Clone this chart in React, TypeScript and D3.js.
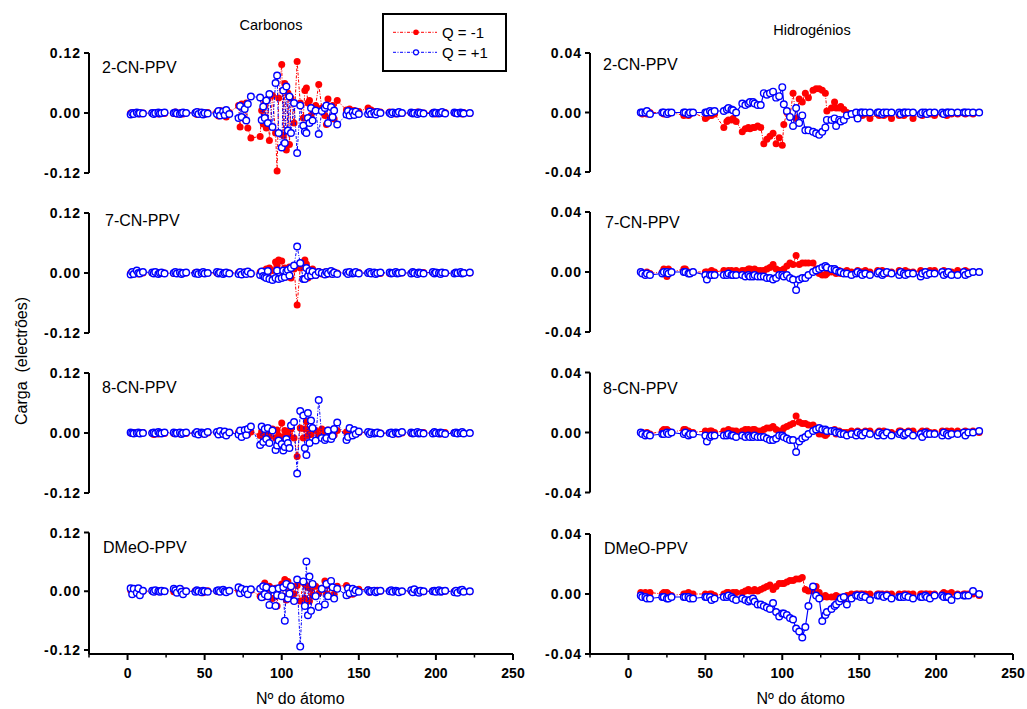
import React from "react";
import * as d3 from "d3";

// ---------- DATA (charges in units of 0.001 electron) ----------
const atomC = [
  2, 3, 4, 6, 7, 8, 10,
  16, 17, 18, 20, 21, 22, 24,
  30, 31, 32, 34, 35, 36, 38,
  44, 45, 46, 48, 49, 50, 52,
  58, 59, 60, 62, 63, 64, 66,
  72, 73, 74, 76, 77, 78, 80,
  86, 87, 88, 89, 90, 91, 92, 94, 96, 97, 98,
  100, 101, 102, 103, 104, 105, 106, 108, 110, 112,
  114, 115, 116, 117, 118, 119, 120, 122, 124, 126,
  128, 129, 130, 132, 133, 134, 136,
  142, 143, 144, 146, 147, 148, 150,
  156, 157, 158, 160, 161, 162, 164,
  170, 171, 172, 174, 175, 176, 178,
  184, 185, 186, 188, 189, 190, 192,
  198, 199, 200, 202, 203, 204, 206,
  212, 213, 214, 216, 217, 218, 222,
];

const atomH = [
  8, 9, 11, 12, 14,
  22, 23, 25, 26, 28,
  36, 37, 39, 40, 42,
  50, 51, 53, 54, 56,
  62, 64, 65, 67, 68, 70,
  74, 76, 78, 79, 81, 82, 84,
  86, 88, 90, 92, 94, 96, 98,
  100, 101, 103, 105, 107, 109, 111, 113,
  115, 117, 120, 122, 124, 126, 128, 129,
  132, 134, 135, 137, 138, 140,
  142, 145, 148, 149, 151, 152, 154,
  157, 162, 163, 165, 166, 168,
  171, 176, 177, 179, 180, 182,
  185, 190, 191, 193, 194, 196,
  199, 204, 205, 207, 208, 210,
  214, 218, 219, 221, 224, 228,
];

// Carbons, 2-CN-PPV
const c2cnNeg = [
  0, -2, 1, -1, 0, -2, 0,
  0, -1, 1, -2, 0, 1, -1,
  -1, 2, -2, 0, 1, -2, 0,
  1, -3, 2, -1, 0, -3, 1,
  2, -6, 5, -3, 4, -8, 1,
  15, -28, 18, -12, 20, -30, -50,
  -47, 5, -22, 20, -30, 28, -55, 35, -40, -116, 30,
  97, -45, 59, -74, 40, -63, 30, -20, 103, 20,
  -10, 45, 50, 20, 25, -5, 10, 15, 57, 10,
  -5, -23, 28, -9, 15, -12, 25,
  6, -4, 8, -3, 5, -2, 3,
  10, -3, 6, -2, 3, -1, 2,
  2, -1, 1, -2, 0, 1, -1,
  0, 1, -1, 2, 0, -1, 0,
  1, 0, -2, 1, -1, 0, 1,
  0, -1, 1, 0, -2, 1, -1,
];
const c2cnPos = [
  -3, 0, -2, 1, -1, 0, -1,
  0, -2, 0, 1, -1, 0, 1,
  0, 1, -1, -2, 0, 1, 0,
  0, 2, -2, 1, -3, 0, -1,
  -2, 4, -5, 3, -4, 6, -2,
  -10, 14, -8, 8, -15, 18, 33,
  31, -14, 13, -10, 25, -20, 38, -28, 60, 75, -40,
  -69, 45, -60, 53, -35, 33, -40, 20, -80, 15,
  -25, -37, -40, -10, -20, 10, -15, 5, -42, 4,
  10, 15, -20, 12, -8, 5, -23,
  -3, 4, -5, 2, -4, 3, -2,
  -2, 3, -2, 1, -3, 2, 0,
  0, -2, 1, 0, -1, 2, 0,
  1, -1, 0, -2, 1, 0, -1,
  -1, 1, 0, -1, 0, 2, -1,
  1, 0, -1, 1, 0, -1, 0,
];

// Carbons, 7-CN-PPV
const c7cnNeg = [
  0, -1, 1, 0, -2, 1, 0,
  0, 1, -1, 0, 1, -1, 0,
  -1, 0, 1, -1, 0, 1, 0,
  1, -1, 0, 1, -1, 0, 0,
  0, 1, -1, 0, 1, -1, 0,
  1, -2, 0, 2, -1, 1, -2,
  2, -3, 4, -5, 8, -3, 10, 5, 22, 15, 26,
  24, -5, 10, -8, 5, 12, -10, 8, -64, 10,
  15, 26, 18, -10, 5, -3, 8, -5, 3, -2,
  2, -3, 1, -2, 3, -1, 0,
  1, -1, 0, 1, -1, 0, 1,
  0, 1, -1, 0, 1, 0, -1,
  -1, 0, 1, 0, -1, 1, 0,
  0, -1, 0, 1, 0, -1, 1,
  1, 0, -1, 0, 1, 0, -1,
  0, 1, 0, -1, 0, 1, 0,
];
const c7cnPos = [
  -3, 2, -2, 5, 0, -1, 2,
  1, -1, 2, -2, 0, 1, -1,
  0, 2, -1, 1, -2, 0, 1,
  -1, 1, -2, 0, 2, -1, 0,
  2, -1, 1, -2, 0, 1, -1,
  -2, 2, -3, 1, -2, 3, -1,
  -4, 3, -6, -8, -10, 4, -12, -14, -10, 5, -12,
  -10, 5, -8, 3, 6, -5, 10, 15, 53, 20,
  -12, -12, 10, -6, 4, -5, 3, -4, 2, 0,
  -3, 2, -1, 4, -2, 1, -2,
  1, -2, 2, -1, 0, 2, -1,
  0, 2, -1, 1, -2, 0, 1,
  1, -1, 0, 2, -1, 0, 1,
  -1, 2, 0, -2, 1, 0, -1,
  2, -1, 1, 0, -2, 1, 0,
  -1, 1, 0, 2, -1, 0, 1,
];

// Carbons, 8-CN-PPV
const c8cnNeg = [
  0, -1, 1, 0, -1, 0, 1,
  0, -3, 1, -2, 0, 1, -1,
  -1, 0, 1, -2, 0, 1, -1,
  0, 1, -1, 0, -2, 1, 0,
  1, -2, 0, 1, -1, -2, 1,
  2, -4, 3, -2, 1, -3, 2,
  -5, 3, -8, 4, -6, 5, -7, 8, -10, 6, -5,
  20, -8, 5, -4, 3, -6, 8, -10, -47, 10,
  -10, 8, 23, -5, 6, -3, 10, 5, -4, 8,
  3, -5, 6, -3, 2, -4, 5,
  2, -1, 3, -2, 0, -1, 1,
  1, 0, -1, 1, 0, -1, 0,
  0, 1, -1, 0, -2, 1, 0,
  -1, 0, 1, 0, -1, 0, 1,
  0, -1, 0, 1, -2, 0, 1,
  1, 0, -1, 0, 1, -1, 0,
];
const c8cnPos = [
  1, 0, -1, 0, 1, -1, 0,
  0, 1, -1, 2, 0, -1, 1,
  1, -1, 0, 1, -2, 0, 1,
  -1, 2, -3, 1, 0, -2, 2,
  2, -3, 4, -2, 3, -5, 1,
  -3, 5, -8, 6, -4, 8, 13,
  -24, 13, -18, 8, -12, 10, -20, 5, -34, -25, -15,
  -22, -35, -28, -12, -20, -30, 15, 22, -81, 44,
  35, -30, -44, 40, -20, 25, 10, -15, 66, -10,
  -14, -10, 5, -12, -6, 8, 21,
  -14, -8, 10, -5, 6, -2, 3,
  2, -2, 1, -1, 0, 1, -1,
  0, 1, -2, 1, 0, -1, 2,
  1, -1, 0, 2, -1, 0, -1,
  -1, 2, 0, -1, 1, 0, -2,
  0, 1, -1, 0, 2, -1, 0,
];

// Carbons, DMeO-PPV
const cDmeoNeg = [
  2, -2, 1, 0, -1, 1, 0,
  0, 1, -1, 0, 1, -1, 0,
  -1, 0, 1, -1, 0, 1, 0,
  1, -1, 0, 1, -3, 0, 1,
  0, -1, 1, 0, -1, 0, 1,
  2, -3, 4, -2, 1, -3, 2,
  -10, 8, -12, 17, 5, -8, 10, -15, 6, -30, 5,
  15, -10, 24, -18, 20, -15, 8, -5, 12, -20,
  18, -15, 12, 8, -20, 5, -8, 10, -4, 6,
  21, -5, 12, -10, 8, -6, 10,
  12, -8, 5, -6, 3, -2, 4,
  3, -2, 1, 0, -1, 2, 0,
  1, 0, -1, 1, 0, -1, 0,
  0, 1, 0, -1, 1, 0, -1,
  1, -1, 0, 1, 0, -1, 0,
  0, 1, -1, 0, 1, 0, -1,
];
const cDmeoPos = [
  6, -6, 5, -3, 6, -8, 1,
  1, -1, 2, 0, -1, 1, 0,
  5, 2, -3, 5, -1, -6, 0,
  -1, 2, 0, -2, 1, 0, -1,
  1, 2, -1, 3, 0, -2, 1,
  8, -4, 5, -2, 3, -6, 4,
  5, -12, 10, -6, 8, -10, -28, 4, -30, -8, 6,
  -10, 8, -60, 15, -15, -5, 10, -20, 24, -113,
  20, -30, 61, -49, 30, -40, 15, -10, -32, 5,
  -27, 15, -10, 21, 8, -15, 5,
  -8, 6, -4, 5, -3, 2, -1,
  2, -1, 0, 1, -2, 0, 1,
  0, 2, -1, 1, 0, -2, 0,
  2, -2, 4, -1, -3, 1, 0,
  0, 1, -1, 2, -1, 0, 1,
  -2, 1, -3, 2, 3, -1, 0,
];

// Hydrogens, 2-CN-PPV
const h2cnNeg = [
  0, -1, 0, -1, 0,
  0, -1, 0, -1, 0,
  -2, -1, -2, -1, 0,
  -4, -3, -2, -2, -1,
  -10, -6, -5, -5, -4, -6,
  -13, -11, -10, -11, -10, -10, -9,
  -10, -21, -18, -16, -14, -21, -17,
  -22, -8, 0, -3, 13, -4, 9, 7,
  13, 10, 15, 16, 16, 15, 13, 1,
  3, 7, 3, 3, 4, 2,
  0, -1, -2, -4, -1, -2, -1,
  -4, -1, -2, -1, -2, -1,
  -4, -2, -1, -2, -1, 0,
  -4, -1, -2, 0, -1, -1,
  -2, -1, -1, -2, 0, -1,
  -1, 0, -1, 0, -1, 0,
];
const h2cnPos = [
  0, 0, 0, 1, -1,
  0, 0, -1, 0, 0,
  0, 0, -1, 0, 0,
  0, 0, 1, 0, 1,
  1, 2, 3, 2, 1.5, 0,
  6, 5, 6, 7, 7, 6, 5,
  5, 13, 12, 13, 14, 10, 11,
  17, 5.5, 1, -3, -9, 3, -7, -2,
  -12, -12, -13, -14, -15, -13, -10, -5,
  -5, -4, -9, -5, -6, -5,
  -2, -1, 0, -4, 0, 0, 0,
  0, 0, 0, -1, 0, 0,
  0, 0, -1, 0, 0, 0,
  0, -1, 0, 0, -1, 0,
  0, 0, -1, 0, 0, 0,
  0, 0, 0, 0, 0, 0,
];

// Hydrogens, 7-CN-PPV
const h7cnNeg = [
  0, -1, -2, 0, -1,
  0, 2, -3, 2, 0,
  2, 2, 0, -1, 0,
  0, 0, 0, 1, 0,
  1, 0, 1, 1, 0, 1,
  1, 1, 2, 2, 1, 2, 1,
  1, 1, 2, 3, 5, 2, 1,
  1, 2, 4, 6, 5, 11, 5, 6,
  6, 6, 6, 2, -1, -2, -2, -1,
  0, 2, -1, 1, -1, 0,
  1, 0, -1, 1, 0, 0, 1,
  0, 1, 0, 1, 0, -1,
  0, 1, 0, 0, 1, 0,
  0, 1, 0, -1, 0, 1,
  1, 0, 1, 0, -1, 0,
  1, 0, 1, 0, 0, 0,
];
const h7cnPos = [
  0, -1, -2, -1, -2,
  -1, 0, 0, -1, 0,
  0, 0, -1, -1, 0,
  -2, -5, -2, -2, -2,
  -2, -2, -1, -2, -2, -2,
  -2, -3, -2, -3, -3, -2, -3,
  -3, -3, -4, -4, -5, -4, -2,
  -2, -3, -2, -4, -5, -12, -5, -4,
  -4, -2, 0, 1, 2, 3, 4, 3,
  2, 2, 1, 0, 0, -1,
  -1, -2, -1, 0, -1, -2, -1,
  -2, -1, 0, -2, -1, 0,
  -1, -2, 0, -1, -2, -1,
  -1, -3, -1, 0, -2, -1,
  -1, 0, -2, -1, 0, -2,
  -2, 0, -2, -1, 0, 0,
];

// Hydrogens, 8-CN-PPV
const h8cnNeg = [
  0, 0, -1, 0, -1,
  1, 2, 2, 1, 0,
  2, 2, 1, 0, 0,
  1, 0, 1, 1, 0,
  1, 1, 2, 1, 1, 1,
  1, 2, 2, 1, 2, 2, 1,
  1, 2, 3, 3, 4, 2, 1,
  1, 3, 4, 5, 6, 11, 7, 6,
  6, 5, 5, 3, -1, -1, -2, -1,
  1, 2, -1, 1, 0, 0,
  0, 1, 0, 1, 0, -1, 1,
  1, 0, 1, 0, 1, 0,
  0, 1, 1, 0, 0, 1,
  1, 0, 1, 0, 1, 0,
  0, 1, 0, 1, 0, 1,
  1, 0, 1, 0, 1, 0,
];
const h8cnPos = [
  0, -1, -2, -1, -2,
  -1, -1, 0, -1, 0,
  -1, 0, -2, -1, -1,
  -2, -6, -3, -2, -2,
  -2, -2, -1, -2, -2, -3,
  -2, -3, -2, -3, -3, -2, -3,
  -3, -3, -4, -5, -5, -4, -2,
  -2, -3, -4, -5, -5, -13, -6, -4,
  -3, -1, 1, 2, 3, 2, 2, 1,
  1, 1, 0, 0, -1, -1,
  -2, -1, -2, 0, -1, -2, 0,
  -1, -2, 0, -1, -2, 0,
  -2, -1, 0, -2, -1, 0,
  -2, -1, -3, 0, -1, -1,
  -1, -2, 0, -1, -2, -1,
  -1, 0, -2, 0, 0, 1,
];

// Hydrogens, DMeO-PPV
const hDmeoNeg = [
  1, 0, 1, 0, 1,
  0, 1, 1, 0, -1,
  0, 0, 1, 0, 0,
  0, -1, 0, 0, -1,
  0, 1, 1, 0, 1, 1,
  1, 2, 3, 2, 2, 3, 2,
  3, 4, 5, 6, 3, 5, 7,
  7, 7, 8, 9, 9, 10, 10, 11,
  3, 2, 2, 5, 1, -2, -1, -2,
  -2, -2, -1, -2, -3, -4,
  -1, 0, 0, 0, 0, 0, 0,
  0, 0, 0, 0, -1, 0,
  0, 0, -1, 0, 0, 0,
  0, 0, 0, 0, 0, 0,
  0, 0, 1, 0, 0, 1,
  0, 0, 0, 0, 0, -1,
];
const hDmeoPos = [
  -1, -2, -2, -3, -3,
  -2, -2, -3, -3, -2,
  -2, -2, -2, -3, -3,
  -2, -2, -2, -4, -3,
  -2, -2, -1, -2, -3, -4,
  -3, -4, -5, -4, -3, -5, -7,
  -7, -8, -9, -10, -6, -12, -15,
  -13, -13, -14, -16, -17, -23, -25, -29,
  -22, -8, 5, -1, -3, -18, -14, -12,
  -10, -8, -7, -5, -3, -2,
  -7, -3, -1, -1, -2, -1, -2,
  -4, -1, -1, -1, -2, -1,
  -3, -2, -2, -2, -1, -2,
  -3, -2, -2, -1, -2, -3,
  -1, -1, -2, -2, -2, -4,
  -1, -1, -1, -1, 2, 0,
];

const panelNames = ["2-CN-PPV", "7-CN-PPV", "8-CN-PPV", "DMeO-PPV"];
const carbonNeg = [c2cnNeg, c7cnNeg, c8cnNeg, cDmeoNeg];
const carbonPos = [c2cnPos, c7cnPos, c8cnPos, cDmeoPos];
const hydroNeg = [h2cnNeg, h7cnNeg, h8cnNeg, hDmeoNeg];
const hydroPos = [h2cnPos, h7cnPos, h8cnPos, hDmeoPos];

const carbonTicks = [0.12, 0, -0.12];
const hydroTicks = [0.04, 0, -0.04];
const xMajor = [0, 50, 100, 150, 200, 250];
const xMinor = [-25, 25, 75, 125, 175, 225];

// ---------- LAYOUT ----------
const FONT = "'Liberation Sans', Arial, Helvetica, sans-serif";
const RED = "#ff0000";
const BLUE = "#0000ff";
const X_AXIS_Y = 654;

// [top pixel (max tick), bottom pixel (min tick)]
const leftRows: [number, number][] = [[53, 173], [213, 333], [373, 493], [532.5, 650]];
const rightRows: [number, number][] = [[53, 172], [212, 332], [372.5, 492.5], [534, 654]];
const leftLabelPos: [number, number][] = [[102, 73], [105, 226], [102, 393], [103, 553]];
const rightLabelPos: [number, number][] = [[603, 70], [605, 228], [603, 394], [604, 554]];

const xLeft = d3.scaleLinear().domain([-25, 250]).range([89, 513]);
const xRight = d3.scaleLinear().domain([-25, 250]).range([590, 1013]);

type PanelProps = {
  x: d3.ScaleLinear<number, number>;
  y: d3.ScaleLinear<number, number>;
  atoms: number[];
  neg: number[];
  pos: number[];
  ticks: number[];
  axisBottom: number;
  label: string;
  labelPos: [number, number];
  blueSolid: boolean;
};

function Panel({ x, y, atoms, neg, pos, ticks, axisBottom, label, labelPos, blueSolid }: PanelProps) {
  const negPts = d3.zip(atoms, neg) as [number, number][];
  const posPts = d3.zip(atoms, pos) as [number, number][];
  const line = d3
    .line<[number, number]>()
    .x((d) => x(d[0]))
    .y((d) => y(d[1] / 1000));
  const ax = x(-25);
  const top = y(ticks[0]);
  return (
    <g>
      <line x1={ax} x2={ax} y1={top} y2={axisBottom} stroke="#000" strokeWidth={2} />
      {ticks.map((t) => (
        <g key={t}>
          <line x1={ax - 5} x2={ax} y1={y(t)} y2={y(t)} stroke="#000" strokeWidth={2} />
          <text
            x={ax - 8}
            y={y(t)}
            dy="0.36em"
            textAnchor="end"
            fontFamily={FONT}
            fontWeight="bold"
            fontSize={14}
            letterSpacing={1}
            fill="#000"
          >
            {t.toFixed(2)}
          </text>
        </g>
      ))}
      <text x={labelPos[0]} y={labelPos[1]} fontFamily={FONT} fontSize={16} fill="#000">
        {label}
      </text>
      <path d={line(negPts) || ""} fill="none" stroke={RED} strokeWidth={1} strokeDasharray="3,1.5,1,1.5" />
      {negPts.map((d, i) => (
        <circle key={"n" + i} cx={x(d[0])} cy={y(d[1] / 1000)} r={3.5} fill={RED} />
      ))}
      <path
        d={line(posPts) || ""}
        fill="none"
        stroke={BLUE}
        strokeWidth={blueSolid ? 1.2 : 1}
        strokeDasharray={blueSolid ? undefined : "3,1.5,1,1.5"}
      />
      {posPts.map((d, i) => (
        <circle
          key={"p" + i}
          cx={x(d[0])}
          cy={y(d[1] / 1000)}
          r={3.3}
          fill="#fff"
          stroke={BLUE}
          strokeWidth={1.4}
        />
      ))}
    </g>
  );
}

function XAxis({ x }: { x: d3.ScaleLinear<number, number> }) {
  const [r0, r1] = x.range();
  return (
    <g>
      <line x1={r0} x2={r1} y1={X_AXIS_Y} y2={X_AXIS_Y} stroke="#000" strokeWidth={2} />
      {xMajor.map((t) => (
        <g key={t}>
          <line x1={x(t)} x2={x(t)} y1={X_AXIS_Y} y2={X_AXIS_Y + 6} stroke="#000" strokeWidth={2} />
          <text
            x={x(t)}
            y={678}
            textAnchor="middle"
            fontFamily={FONT}
            fontWeight="bold"
            fontSize={14}
            fill="#000"
          >
            {t}
          </text>
        </g>
      ))}
      {xMinor.map((t) => (
        <line key={t} x1={x(t)} x2={x(t)} y1={X_AXIS_Y} y2={X_AXIS_Y + 3.5} stroke="#000" strokeWidth={1.5} />
      ))}
      <text
        x={(x(0) + x(250)) / 2 - 20}
        y={704}
        textAnchor="middle"
        fontFamily={FONT}
        fontSize={16}
        fill="#000"
      >
        Nº do átomo
      </text>
    </g>
  );
}

export default function App() {
  return (
    <svg
      width={1027}
      height={709}
      viewBox="0 0 1027 709"
      style={{ position: "absolute", left: 0, top: 0, display: "block", background: "#fff" }}
    >
      <rect x={0} y={0} width={1027} height={709} fill="#fff" />
      {panelNames.map((name, r) => {
        const yl = d3.scaleLinear().domain([-0.12, 0.12]).range([leftRows[r][1], leftRows[r][0]]);
        const yr = d3.scaleLinear().domain([-0.04, 0.04]).range([rightRows[r][1], rightRows[r][0]]);
        const last = r === panelNames.length - 1;
        return (
          <g key={name}>
            <Panel
              x={xLeft}
              y={yl}
              atoms={atomC}
              neg={carbonNeg[r]}
              pos={carbonPos[r]}
              ticks={carbonTicks}
              axisBottom={last ? X_AXIS_Y : leftRows[r][1]}
              label={name}
              labelPos={leftLabelPos[r]}
              blueSolid={false}
            />
            <Panel
              x={xRight}
              y={yr}
              atoms={atomH}
              neg={hydroNeg[r]}
              pos={hydroPos[r]}
              ticks={hydroTicks}
              axisBottom={last ? X_AXIS_Y : rightRows[r][1]}
              label={name}
              labelPos={rightLabelPos[r]}
              blueSolid={true}
            />
          </g>
        );
      })}
      <XAxis x={xLeft} />
      <XAxis x={xRight} />
      <text x={271} y={30} textAnchor="middle" fontFamily={FONT} fontSize={14.5} fill="#000">
        Carbonos
      </text>
      <text x={812} y={35} textAnchor="middle" fontFamily={FONT} fontSize={14.5} fill="#000">
        Hidrogénios
      </text>
      <text
        transform="translate(27,361) rotate(-90)"
        textAnchor="middle"
        fontFamily={FONT}
        fontSize={16}
        fill="#000"
        style={{ whiteSpace: "pre" }}
      >
        {"Carga  (electrões)"}
      </text>
      <g>
        <rect x={383} y={14} width={123} height={57} fill="#fff" stroke="#000" strokeWidth={2} />
        <line x1={393} x2={437} y1={32.3} y2={32.3} stroke={RED} strokeWidth={1} strokeDasharray="3,1.5,1,1.5" />
        <circle cx={416} cy={32.3} r={2.8} fill={RED} />
        <text x={442} y={37.5} fontFamily={FONT} fontSize={15} fill="#000">Q = -1</text>
        <line x1={393} x2={437} y1={52.3} y2={52.3} stroke={BLUE} strokeWidth={1} strokeDasharray="3,1.5,1,1.5" />
        <circle cx={416} cy={52.3} r={2.5} fill="#fff" stroke={BLUE} strokeWidth={1.2} />
        <text x={442} y={57.5} fontFamily={FONT} fontSize={15} fill="#000">Q = +1</text>
      </g>
    </svg>
  );
}
